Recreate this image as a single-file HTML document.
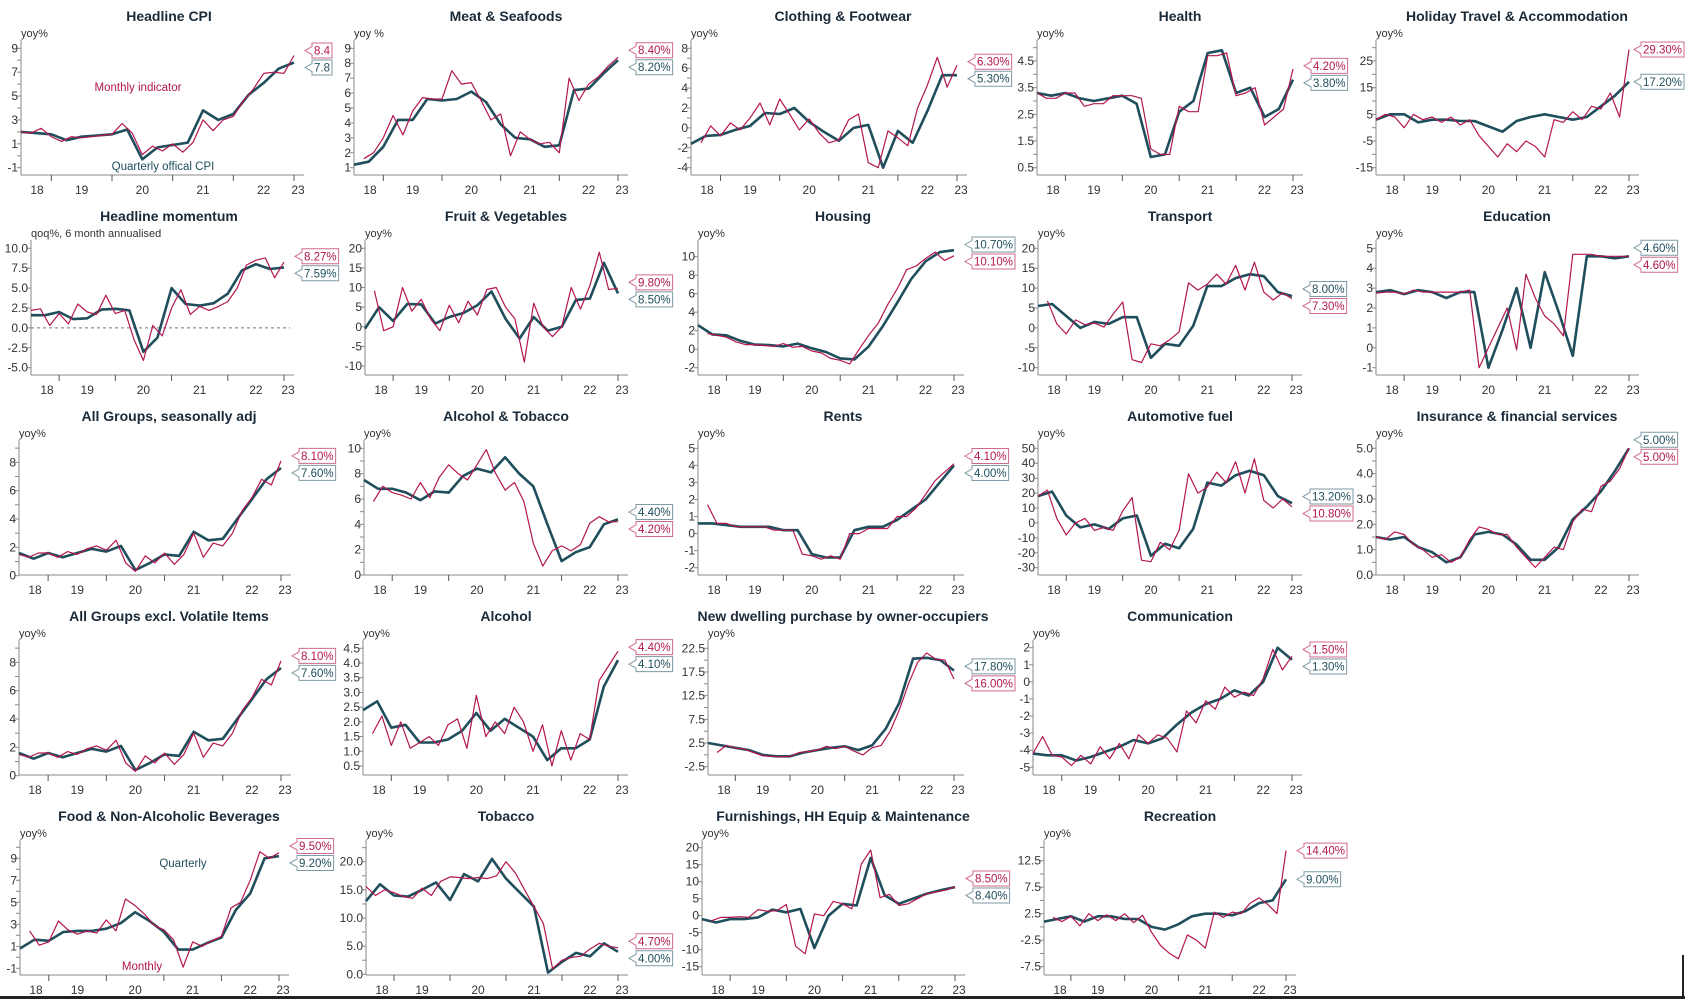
<!DOCTYPE html>
<html><head><meta charset="utf-8"><title>CPI components</title>
<style>
html,body{margin:0;padding:0;background:#fff;}
body{width:1685px;height:999px;overflow:hidden;font-family:"Liberation Sans",sans-serif;}
svg text{font-family:"Liberation Sans",sans-serif;}
</style></head>
<body>
<svg id="chart" width="1685" height="999" viewBox="0 0 1685 999" xmlns="http://www.w3.org/2000/svg">
<rect x="0" y="0" width="1685" height="999" fill="#fff"/>
<rect x="0" y="996" width="1685" height="3" fill="#222"/>
<rect x="1682" y="955" width="2" height="44" fill="#222"/>
</svg>
<script>
const quarterDates = [2018.5,2018.75,2019,2019.25,2019.5,2019.75,2020,2020.25,2020.5,2020.75,2021,2021.25,2021.5,2021.75,2022,2022.25,2022.5,2022.75,2023];
const monthDates = [2018.5,2018.667,2018.833,2019,2019.167,2019.333,2019.5,2019.667,2019.833,2020,2020.167,2020.333,2020.5,2020.667,2020.833,2021,2021.167,2021.333,2021.5,2021.667,2021.833,2022,2022.167,2022.333,2022.5,2022.667,2022.833,2023];
const yearTicks = [2019,2020,2021,2022,2023];
const yearLabels = ["18","19","20","21","22","23"];

const p1Q = [2.0,1.9,1.8,1.3,1.6,1.7,1.8,2.2,-0.3,0.7,0.9,1.1,3.8,3.0,3.5,5.1,6.1,7.3,7.8];
const p1M = [2.0,1.9,2.3,1.6,1.2,1.6,1.5,1.6,1.7,1.8,2.7,1.9,0.1,0.8,0.4,1.0,0.3,1.1,3.0,2.1,3.0,3.3,4.6,5.6,6.9,7.0,6.9,8.4];
const p2Q = [1.2,1.4,2.4,4.2,4.2,5.6,5.5,5.6,6.1,5.4,3.9,3.0,2.9,2.4,2.5,6.2,6.3,7.3,8.2];
const p2M = [null,1.6,2.0,3.0,4.5,3.2,4.8,5.7,5.6,5.6,7.5,6.6,6.7,5.5,4.2,4.6,1.8,3.4,2.9,2.6,2.7,2.0,7.0,5.5,6.6,7.1,7.8,8.4];
const p3Q = [-1.6,-0.8,-0.7,-0.2,0.2,1.5,1.4,2.0,0.6,-0.4,-1.3,0.0,0.3,-4.0,-0.3,-1.5,1.7,5.3,5.3];
const p3M = [null,-1.5,0.2,-0.8,0.5,-0.2,1.0,2.5,0.3,2.9,1.4,-0.2,0.9,-0.5,-1.5,-1.2,0.8,1.4,-3.5,-4.0,-0.3,-1.0,-1.8,2.0,4.3,7.1,4.1,6.3];
const p4Q = [3.3,3.2,3.3,3.1,3.0,3.1,3.2,2.9,0.9,1.0,2.6,3.0,4.8,4.9,3.3,3.5,2.4,2.7,3.8];
const p4M = [3.3,3.1,3.1,3.3,3.3,2.8,2.9,2.9,3.2,3.2,3.2,3.1,1.2,1.0,1.0,2.8,2.6,2.6,4.7,4.7,4.8,3.2,3.3,3.5,2.1,2.4,2.7,4.2];
const p5Q = [3,5,5,2,3,3,2.5,2.5,0.5,-1.5,2.5,4,5,4,3,4,8,12,17.2];
const p5M = [3,5,4,0,5,3,4,2,4,1,3,-3,-7,-11,-6,-9,-5,-7,-11,3,2,6,3,8,7,13,4,29.3];
const p6Q = [1.6,1.6,2.0,1.1,1.2,2.3,2.4,2.2,-3.0,-1.2,5.0,3.0,2.8,3.1,4.3,7.2,8.0,7.4,7.59];
const p6M = [2.2,2.4,0.3,1.8,0.5,3.0,2.0,1.7,4.1,1.8,2.2,-1.5,-4.1,0.3,-1.0,2.5,4.8,1.7,2.7,2.2,2.7,3.3,5.0,7.9,8.5,8.8,6.3,8.27];
const p7Q = [-0.5,5,1.5,5.8,5.7,0.8,2.5,3.5,5.5,9,2,-3,2.5,-1,0,6.8,7.2,16.3,8.5];
const p7M = [null,9.2,-1,0,10,4,7,2,-1,5.5,1,6.5,3,9.5,10,5,2,-9,6,0,-2.5,0,10,4.5,10.5,19,9.5,9.8];
const p8Q = [2.6,1.6,1.5,0.9,0.5,0.45,0.3,0.6,0.1,-0.3,-1.0,-1.1,0.3,2.5,5.0,7.6,9.5,10.5,10.7];
const p8M = [null,1.7,1.5,1.3,0.8,0.5,0.5,0.4,0.3,0.6,0.2,0.3,-0.2,-0.4,-1.0,-1.2,-1.6,0.0,1.5,2.8,4.8,6.5,8.6,9.0,9.8,10.5,9.6,10.1];
const p9Q = [5.5,6,3,0,1.5,1,2.7,2.7,-7.5,-4,-4.5,0.5,10.5,10.5,12.5,13.5,13,9,8.0];
const p9M = [null,6.8,1,-1.5,2,0.8,1.2,0.2,3.5,6.5,-8,-8.7,-4,-4.5,-3,-1,11.3,9.5,11,13.5,11,15.7,9.5,16.5,9,7,8.8,7.3];
const p10Q = [2.8,2.9,2.7,2.9,2.8,2.5,2.8,2.8,-1.0,0.9,3.0,0.0,3.8,1.8,-0.4,4.6,4.6,4.5,4.6];
const p10M = [2.75,2.8,2.8,2.7,2.9,2.8,2.8,2.8,2.8,2.8,2.9,-1.0,0.0,1.0,2.0,-0.1,3.7,2.5,1.6,1.2,0.6,4.7,4.7,4.7,4.6,4.6,4.6,4.6];
const p11Q = [1.6,1.2,1.6,1.3,1.6,1.9,1.7,2.1,0.4,0.9,1.5,1.4,3.1,2.5,2.6,4.0,5.4,6.8,7.6];
const p11M = [1.5,1.3,1.6,1.6,1.3,1.7,1.5,1.9,2.1,1.8,2.5,0.9,0.3,1.4,0.9,1.6,0.8,1.5,3.0,1.3,2.3,2.1,3.0,4.6,5.5,6.8,6.4,8.1];
const p12Q = [7.5,6.8,6.8,6.5,5.9,6.6,6.5,7.8,8.4,8.1,9.3,8.0,7.0,4.0,1.1,1.8,2.2,4.0,4.4];
const p12M = [null,5.8,7.0,6.5,6.3,6.0,7.3,6.1,7.7,8.7,8.0,7.5,8.7,9.9,8.0,6.7,7.3,5.8,2.5,0.7,1.9,2.3,1.9,2.4,4.1,4.6,4.2,4.2];
const p13Q = [0.6,0.6,0.5,0.4,0.4,0.4,0.2,0.2,-1.2,-1.4,-1.4,0.2,0.4,0.4,0.8,1.4,2.0,3.0,4.0];
const p13M = [null,1.7,0.6,0.6,0.4,0.4,0.4,0.4,0.2,0.2,0.2,-1.2,-1.3,-1.5,-1.3,-1.5,0.0,0.0,0.3,0.3,0.3,1.0,1.0,1.5,2.3,3.1,3.6,4.1];
const p14Q = [18,21,5,-3,-1,-4,3,5,-22,-14,-17,-4,27,25,32,35,32,18,13.2];
const p14M = [18,22,3,-8,0,3,-5,-3,-5,8,17,-25,-26,-13,-18,-5,33,20,24,34,27,41,20,43,15,10,16,10.8];
const p15Q = [1.5,1.4,1.5,1.1,0.9,0.5,0.7,1.6,1.7,1.6,1.2,0.6,0.6,1.1,2.2,2.7,3.3,4.1,5.0];
const p15M = [1.5,1.4,1.7,1.6,1.2,1.0,0.7,0.8,0.5,0.7,1.4,1.9,1.8,1.6,1.6,1.1,0.7,0.3,0.7,1.1,1.0,2.1,2.6,2.5,3.5,3.7,4.2,5.0];
const p16Q = [1.6,1.2,1.6,1.3,1.6,1.9,1.7,2.1,0.4,0.9,1.5,1.4,3.1,2.5,2.6,4.0,5.4,6.8,7.6];
const p16M = [1.5,1.3,1.6,1.6,1.3,1.7,1.5,1.9,2.1,1.8,2.5,0.9,0.3,1.4,0.9,1.6,0.8,1.5,3.0,1.3,2.3,2.1,3.0,4.6,5.5,6.8,6.4,8.1];
const p17Q = [2.4,2.7,1.8,1.9,1.3,1.3,1.4,1.7,2.3,1.7,2.1,1.8,1.5,0.7,1.1,1.1,1.4,3.2,4.1];
const p17M = [null,1.6,2.2,1.2,2.0,1.1,1.3,1.5,1.2,1.9,2.1,1.1,2.9,1.5,2.0,1.6,2.5,2.0,1.0,1.9,0.5,1.7,0.7,1.6,1.4,3.4,3.9,4.4];
const p18Q = [2.5,2.0,1.5,1.0,0.0,-0.3,-0.3,0.5,1.0,1.5,1.8,1.0,2.0,5.5,11.0,20.3,20.5,20.0,17.8];
const p18M = [null,0.5,2.0,1.5,1.2,0.5,-0.2,-0.3,-0.4,-0.3,0.5,0.7,1.0,1.8,1.3,1.8,0.8,0.0,1.5,2.0,5.0,9.5,15,19.5,21.5,20.2,20,16];
const p19Q = [-4.2,-4.3,-4.3,-4.6,-4.4,-4.1,-3.8,-3.4,-3.6,-3.3,-2.5,-1.8,-1.3,-1.0,-0.5,-0.8,0.0,2.0,1.3];
const p19M = [-4.2,-3.2,-4.3,-4.4,-4.9,-4.3,-4.8,-3.8,-4.5,-3.6,-4.5,-3.1,-3.6,-3.1,-3.3,-4.1,-1.7,-2.4,-1.1,-1.6,-0.3,-0.9,-0.6,-0.8,0.2,1.9,0.7,1.5];
const p20Q = [0.8,1.6,1.5,2.3,2.4,2.4,2.6,3.1,4.1,3.3,2.3,0.7,0.7,1.3,1.8,4.3,5.8,9.0,9.2];
const p20M = [null,2.4,1.1,1.4,3.3,2.5,2.1,2.4,2.2,3.4,2.4,5.3,4.7,3.9,2.9,2.5,1.6,-0.9,1.4,1.0,1.5,1.9,4.5,5.0,7.0,9.6,9.0,9.5];
const p21Q = [13,16,14,13.8,15,16.3,13.2,17.8,16.5,20.5,17,14.5,12,0.3,2.2,3.8,3.2,5.5,4.0];
const p21M = [15.6,14,15,14.5,13.8,13.5,15.3,14,16.5,17.3,17.2,17,17.2,17,17.5,20,18,15,12,9,1,2.5,3,3.2,4.5,5.5,5.0,4.7];
const p22Q = [-1,-2,-1,-1,-0.5,1.8,1,2,-9.5,0,3.5,3,17,6,3.5,5,6.5,7.5,8.4];
const p22M = [null,-1.5,-0.5,-0.5,-0.3,-0.5,1.8,1.3,1.5,3.3,-9,-11.2,0.5,0,4.2,3.5,2,15.2,19.3,5.3,6.3,3,3.5,5,6.5,7,7.5,8.5];
const p23Q = [1,1.5,2,1,2,2,1.5,1.5,0,-0.5,0.5,2,2.5,2.5,2.2,3,4.5,5,9];
const p23M = [null,1.8,1.0,2.0,0.2,2.5,1.2,2.3,1.2,2.5,0.8,2.2,-1.0,-3.5,-5,-6,-1.5,-2.5,-4,2.8,1.8,2.8,2.5,4.5,5.5,4.2,2.5,14.4];

const ticks1 = [9,7,5,3,1,-1];
const ticks2 = [9,8,7,6,5,4,3,2,1];
const ticks3 = [8,6,4,2,0,-2,-4];
const ticks4 = [4.5,3.5,2.5,1.5,0.5];
const ticks5 = [25,15,5,-5,-15];
const ticks6 = [10,7.5,5,2.5,0,-2.5,-5];
const ticks7 = [20,15,10,5,0,-5,-10];
const ticks8 = [10,8,6,4,2,0,-2];
const ticks9 = [20,15,10,5,0,-5,-10];
const ticks10 = [5,4,3,2,1,0,-1];
const ticks11 = [8,6,4,2,0];
const ticks12 = [10,8,6,4,2,0];
const ticks13 = [5,4,3,2,1,0,-1,-2];
const ticks14 = [50,40,30,20,10,0,-10,-20,-30];
const ticks15 = [5,4,3,2,1,0];
const ticks16 = [8,6,4,2,0];
const ticks17 = [4.5,4,3.5,3,2.5,2,1.5,1,0.5];
const ticks18 = [22.5,17.5,12.5,7.5,2.5,-2.5];
const ticks19 = [2,1,0,-1,-2,-3,-4,-5];
const ticks20 = [9,7,5,3,1,-1];
const ticks21 = [20,15,10,5,0];
const ticks22 = [20,15,10,5,0,-5,-10,-15];
const ticks23 = [12.5,7.5,2.5,-2.5,-7.5];

const MAG = "#b3164f", TEAL = "#1f4e5c";
const NS = "http://www.w3.org/2000/svg";
const svg = document.getElementById("chart");

const panels = [
 {t:"Headline CPI",u:"yoy%",c:0,r:0,L:21,R:294,tk:ticks1,yT:48.3,yB:167.7,minor:true,dec:0,m:p1M,q:p1Q,lblDec:1,pct:false},
 {t:"Meat & Seafoods",u:"yoy %",c:1,r:0,L:17,R:281,tk:ticks2,yT:48.3,yB:167.7,minor:false,dec:0,m:p2M,q:p2Q},
 {t:"Clothing & Footwear",u:"yoy%",c:2,r:0,L:17,R:283,tk:ticks3,yT:48.3,yB:167.7,minor:true,dec:0,m:p3M,q:p3Q},
 {t:"Health",u:"yoy%",c:3,r:0,L:26,R:282,tk:ticks4,yT:61,yB:167.7,minor:true,dec:1,m:p4M,q:p4Q},
 {t:"Holiday Travel & Accommodation",u:"yoy%",c:4,r:0,L:28,R:281,tk:ticks5,yT:61,yB:167.7,minor:true,dec:0,m:p5M,q:p5Q},
 {t:"Headline momentum",u:"qoq%, 6 month annualised",c:0,r:1,L:31,R:284,tk:ticks6,yT:48.3,yB:167.7,minor:false,dec:1,m:p6M,q:p6Q,zero:true},
 {t:"Fruit & Vegetables",u:"yoy%",c:1,r:1,L:28,R:281,tk:ticks7,yT:48.3,yB:166,minor:false,dec:0,m:p7M,q:p7Q},
 {t:"Housing",u:"yoy%",c:2,r:1,L:24,R:280,tk:ticks8,yT:56.7,yB:167.7,minor:false,dec:0,m:p8M,q:p8Q},
 {t:"Transport",u:"yoy%",c:3,r:1,L:27,R:281,tk:ticks9,yT:48.3,yB:167.7,minor:false,dec:0,m:p9M,q:p9Q},
 {t:"Education",u:"yoy%",c:4,r:1,L:28,R:281,tk:ticks10,yT:48.3,yB:167.7,minor:false,dec:0,m:p10M,q:p10Q},
 {t:"All Groups, seasonally adj",u:"yoy%",c:0,r:2,L:19,R:281,tk:ticks11,yT:62.3,yB:175.7,minor:true,dec:0,m:p11M,q:p11Q},
 {t:"Alcohol & Tobacco",u:"yoy%",c:1,r:2,L:27,R:281,tk:ticks12,yT:48.3,yB:175,minor:true,dec:0,m:p12M,q:p12Q},
 {t:"Rents",u:"yoy%",c:2,r:2,L:24,R:280,tk:ticks13,yT:48.3,yB:167.7,minor:false,dec:0,m:p13M,q:p13Q},
 {t:"Automotive fuel",u:"yoy%",c:3,r:2,L:27,R:281,tk:ticks14,yT:48.3,yB:167.7,minor:false,dec:0,m:p14M,q:p14Q},
 {t:"Insurance & financial services",u:"yoy%",c:4,r:2,L:28,R:281,tk:ticks15,yT:48.3,yB:175,minor:true,dec:1,m:p15M,q:p15Q},
 {t:"All Groups excl. Volatile Items",u:"yoy%",c:0,r:3,L:19,R:281,tk:ticks16,yT:62.3,yB:175.7,minor:true,dec:0,m:p16M,q:p16Q},
 {t:"Alcohol",u:"yoy%",c:1,r:3,L:26,R:281,tk:ticks17,yT:48.3,yB:166,minor:false,dec:1,m:p17M,q:p17Q},
 {t:"New dwelling purchase by owner-occupiers",u:"yoy%",c:2,r:3,L:34,R:280,tk:ticks18,yT:48.3,yB:166.7,minor:true,dec:1,m:p18M,q:p18Q},
 {t:"Communication",u:"yoy%",c:3,r:3,L:22,R:281,tk:ticks19,yT:47.7,yB:167.3,minor:false,dec:0,m:p19M,q:p19Q},
 {t:"Food & Non-Alcoholic Beverages",u:"yoy%",c:0,r:4,L:20,R:279,tk:ticks20,yT:58.3,yB:168.3,minor:true,dec:0,m:p20M,q:p20Q},
 {t:"Tobacco",u:"yoy%",c:1,r:4,L:29,R:281,tk:ticks21,yT:61.7,yB:174.3,minor:true,dec:1,m:p21M,q:p21Q},
 {t:"Furnishings, HH Equip & Maintenance",u:"yoy%",c:2,r:4,L:28,R:281,tk:ticks22,yT:47.7,yB:166.7,minor:false,dec:0,m:p22M,q:p22Q},
 {t:"Recreation",u:"yoy%",c:3,r:4,L:33,R:275,tk:ticks23,yT:60.7,yB:166.7,minor:true,dec:1,m:p23M,q:p23Q}
];

function mk(tag, attrs, parent){
  const e = document.createElementNS(NS, tag);
  for (const k in attrs) e.setAttribute(k, attrs[k]);
  (parent||svg).appendChild(e);
  return e;
}
function slug(s){return s.toLowerCase().replace(/[^a-z0-9]+/g,'-').replace(/^-|-$/g,'');}

panels.forEach(function(p){
  const X0 = p.c*337, Y0 = p.r*200;
  const name = slug(p.t);
  const g = mk("g", {transform:"translate("+X0+","+Y0+")"});
  
  
  const vTop = p.tk[0], vBot = p.tk[p.tk.length-1];
  const yScale = function(v){ return p.yT + (vTop - v) * (p.yB - p.yT) / (vTop - vBot); };
  const xScale = function(t){ return p.L + (t - 2018.5) * (p.R - p.L) / 4.5; };
  const axisTop = 40, axisBot = 175;

  const title = mk("text", {x:169, y:21, "text-anchor":"middle", "font-size":"14", "font-weight":"bold", fill:"#1b2a38"}, g);
  title.textContent = p.t;
  
  

  const unit = mk("text", {x:p.L, y:37, "font-size":"11", fill:"#333"}, g);
  unit.textContent = p.u;
  
  

  const yAxis = mk("line", {x1:p.L, y1:axisTop, x2:p.L, y2:axisBot, stroke:"#8a8a8a", "stroke-width":"1"}, g);
  
  
  const xAxis = mk("line", {x1:p.L, y1:axisBot, x2:p.R+10, y2:axisBot, stroke:"#8a8a8a", "stroke-width":"1"}, g);
  
  

  p.tk.forEach(function(v){
    const y = yScale(v);
    mk("line", {x1:p.L-4, y1:y, x2:p.L, y2:y, stroke:"#8a8a8a"}, g);
    const tl = mk("text", {x:p.L-3, y:y+4, "text-anchor":"end", "font-size":"12", fill:"#333"}, g);
    tl.textContent = v.toFixed(p.dec);
    
    
  });
  if (p.minor){
    const step = p.tk[0]-p.tk[1];
    for (let v = vBot - step/2; v <= vTop + step; v += step){
      const y = yScale(v);
      if (y >= axisTop && y <= axisBot) mk("line", {x1:p.L-4, y1:y, x2:p.L, y2:y, stroke:"#8a8a8a"}, g);
    }
  }
  yearTicks.forEach(function(t){
    const x = xScale(t);
    mk("line", {x1:x, y1:axisBot, x2:x, y2:axisBot+6, stroke:"#555"}, g);
  });
  yearLabels.forEach(function(lb, i){
    let x;
    if (i === 0) x = p.L + 16;
    else if (i === 5) x = xScale(2023) + 4;
    else x = xScale(2018.5 + i);
    const xl = mk("text", {x:x, y:194, "text-anchor":"middle", "font-size":"12", fill:"#333"}, g);
    xl.textContent = lb;
    
    
  });
  if (p.zero){
    const zl = mk("line", {x1:p.L, y1:yScale(0), x2:p.R+6, y2:yScale(0), stroke:"#777", "stroke-dasharray":"3,3"}, g);
    
    
  }

  function pathFrom(dates, vals){
    let d = "", pen = false;
    vals.forEach(function(v, i){
      if (v === null || v === undefined){ pen = false; return; }
      d += (pen ? "L" : "M") + xScale(dates[i]).toFixed(1) + "," + yScale(v).toFixed(1);
      pen = true;
    });
    return d;
  }
  const qPath = mk("path", {d:pathFrom(quarterDates, p.q), fill:"none", stroke:TEAL, "stroke-width":"2.6", "stroke-linejoin":"round"}, g);
  
  
  const mPath = mk("path", {d:pathFrom(monthDates, p.m), fill:"none", stroke:MAG, "stroke-width":"1.2", "stroke-linejoin":"round"}, g);
  
  

  const mv = p.m[p.m.length-1], qv = p.q[p.q.length-1];
  let ym = yScale(mv), yq = yScale(qv);
  const gap = 17;
  if (Math.abs(ym - yq) < gap){
    const mid = (ym + yq)/2;
    if (mv > qv){ ym = mid - gap/2; yq = mid + gap/2; }
    else { yq = mid - gap/2; ym = mid + gap/2; }
  }
  const tipOff = p.c === 4 ? 5 : 11;
  function callout(y, val, color, border, nm){
    const tip = p.R + tipOff, bx = tip + 7, h = 15;
    const txt = mk("text", {x:bx+2, y:y+4, "font-size":"11.5", fill:color}, g);
    txt.textContent = p.pct === false ? val.toFixed(1) : val.toFixed(2) + "%";
    
    
    let w = 34;
    try { w = txt.getComputedTextLength() + 4; } catch(e){}
    const y0 = y - h/2;
    const box = mk("path", {d:"M"+tip+","+y+" L"+bx+","+(y-4)+" L"+bx+","+y0+" L"+(bx+w)+","+y0+" L"+(bx+w)+","+(y0+h)+" L"+bx+","+(y0+h)+" L"+bx+","+(y+4)+" Z", fill:"#fff", stroke:border, "stroke-width":"1"}, g);
    
    
    g.appendChild(txt);
  }
  callout(ym, mv, MAG, "#d06a90", 'monthly-latest-callout');
  callout(yq, qv, TEAL, "#7d9aa5", 'quarterly-latest-callout');

  if (p.c === 0 && p.r === 0){
    const a1 = mk("text", {x:138, y:91, "text-anchor":"middle", "font-size":"11.5", fill:MAG}, g);
    a1.textContent = "Monthly indicator";
    
    
    const a2 = mk("text", {x:163, y:170, "text-anchor":"middle", "font-size":"11.5", fill:TEAL}, g);
    a2.textContent = "Quarterly offical CPI";
    
    
  }
  if (p.c === 0 && p.r === 4){
    const a3 = mk("text", {x:183, y:67, "text-anchor":"middle", "font-size":"11.5", fill:TEAL}, g);
    a3.textContent = "Quarterly";
    
    
    const a4 = mk("text", {x:142, y:170, "text-anchor":"middle", "font-size":"11.5", fill:MAG}, g);
    a4.textContent = "Monthly";
    
    
  }
});
</script>
</body></html>
